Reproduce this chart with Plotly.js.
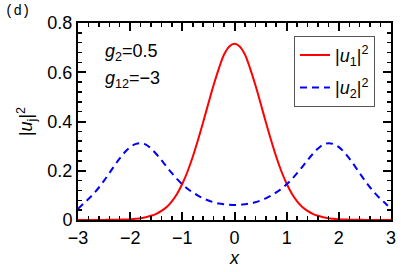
<!DOCTYPE html>
<html>
<head>
<meta charset="utf-8">
<script src="https://cdn.plot.ly/plotly-3.0.1.min.js"></script>
<style>html,body{margin:0;padding:0;background:#fff;}#chart{width:407px;height:272px;}</style>
</head>
<body>
<div id="chart"></div>
<script>
// x positions (half-axis, mirrored to negative side)
const xHalf = [0, 0.1, 0.2, 0.3, 0.4, 0.5, 0.6, 0.7, 0.8, 0.9, 1.0, 1.1, 1.2, 1.3, 1.4, 1.5, 1.6, 1.7, 1.8, 1.9, 2.0, 2.1, 2.2, 2.3, 2.4, 2.5, 2.6, 2.7, 2.8, 2.9, 3.0];
// |u1|^2
const u1Half = [0.716, 0.705, 0.672, 0.615, 0.548, 0.474, 0.398, 0.325, 0.257, 0.197, 0.147, 0.107, 0.076, 0.053, 0.037, 0.025, 0.017, 0.011, 0.007, 0.005, 0.003, 0.002, 0.0015, 0.001, 0.0007, 0.0005, 0.0003, 0.0002, 0.0001, 0.0001, 0.0001];
// |u2|^2
const u2Half = [0.061, 0.062, 0.064, 0.067, 0.072, 0.079, 0.088, 0.099, 0.112, 0.127, 0.145, 0.166, 0.190, 0.216, 0.243, 0.268, 0.290, 0.306, 0.312, 0.308, 0.296, 0.276, 0.250, 0.221, 0.190, 0.160, 0.132, 0.107, 0.085, 0.066, 0.045];

const xs = [], u1 = [], u2 = [];
for (let i = xHalf.length - 1; i > 0; i--) { xs.push(-xHalf[i]); u1.push(u1Half[i]); u2.push(u2Half[i]); }
for (let i = 0; i < xHalf.length; i++) { xs.push(xHalf[i]); u1.push(u1Half[i]); u2.push(u2Half[i]); }

const font = {family: 'Liberation Sans, Arial, sans-serif', size: 18, color: '#000'};

const traces = [
  {x: xs, y: u1, mode: 'lines', legendgroup: 'a', name: '|<i>u</i><sub>1</sub>|<sup>2</sup>', line: {color: '#ff0000', width: 2, shape: 'spline'}},
  {x: xs, y: u2, mode: 'lines', legendgroup: 'b', name: '|<i>u</i><sub>2</sub>|<sup>2</sup>', line: {color: '#0000ff', width: 2, dash: '7px,5px', shape: 'spline'}}
];

const axisCommon = {
  showline: true, linewidth: 2, linecolor: '#000', mirror: 'allticks',
  ticks: 'inside', ticklen: 8, tickwidth: 2, tickcolor: '#000',
  showgrid: false, zeroline: false, tickfont: font
};

const layout = {
  width: 407, height: 272,
  margin: {l: 78, r: 16, t: 23, b: 52},
  paper_bgcolor: '#fff', plot_bgcolor: '#fff',
  font: font,
  showlegend: true,
  legend: {x: 0.69, y: 0.935, xanchor: 'left', yanchor: 'top', bordercolor: '#555', borderwidth: 1, bgcolor: '#fff', font: font, itemwidth: 30, traceorder: 'grouped', tracegroupgap: 6},
  xaxis: Object.assign({}, axisCommon, {
    range: [-3, 3], dtick: 1, tick0: -3,
    minor: {dtick: 0.2, ticks: 'inside', ticklen: 4, tickwidth: 1.5, tickcolor: '#000', showgrid: false},
    title: {text: '<i>x</i>', font: font, standoff: 5}
  }),
  yaxis: Object.assign({}, axisCommon, {
    range: [0, 0.8], dtick: 0.2, tick0: 0,
    minor: {dtick: 0.04, ticks: 'inside', ticklen: 4, tickwidth: 1.5, tickcolor: '#000', showgrid: false},
    title: {text: '|<i>u</i><sub>j</sub>|<sup>2</sup>', font: font, standoff: 10}
  }),
  annotations: [
    {xref: 'paper', yref: 'paper', x: -0.24, y: 1.06, xanchor: 'left', yanchor: 'middle', text: '(d)', showarrow: false, font: {family: 'Liberation Mono, DejaVu Sans Mono, monospace', size: 14, color: '#000'}},
    {xref: 'paper', yref: 'paper', x: 0.08, y: 0.85, xanchor: 'left', yanchor: 'middle', text: '<i>g</i><sub>2</sub>=0.5', showarrow: false, font: font},
    {xref: 'paper', yref: 'paper', x: 0.08, y: 0.715, xanchor: 'left', yanchor: 'middle', text: '<i>g</i><sub>12</sub>=\u22123', showarrow: false, font: font}
  ]
};

Plotly.newPlot('chart', traces, layout, {displayModeBar: false, staticPlot: true});
</script>
</body>
</html>
